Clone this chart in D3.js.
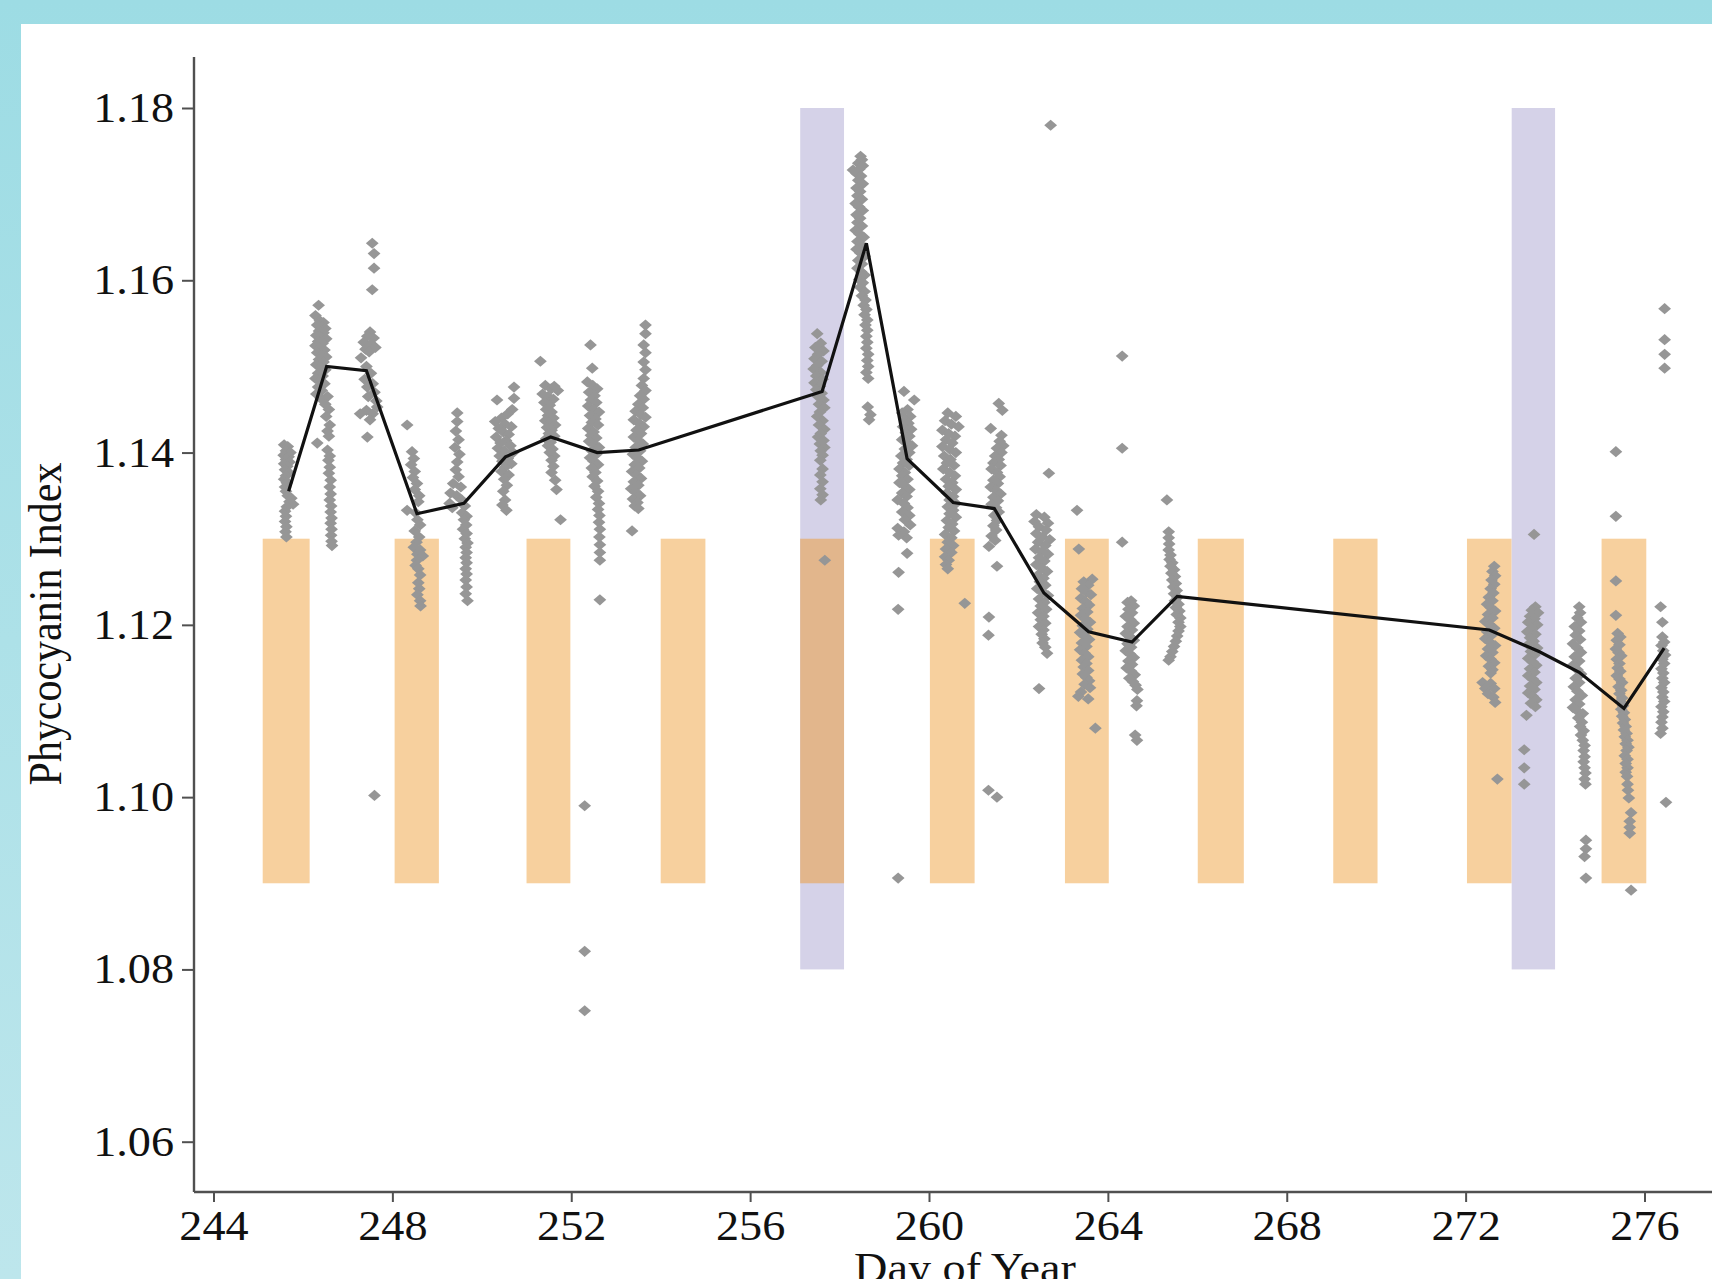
<!DOCTYPE html>
<html><head><meta charset="utf-8">
<script src="https://cdn.jsdelivr.net/npm/d3@7"></script>
<style>
html,body{margin:0;padding:0;background:#fff;}
svg{display:block;}
text{font-family:"Liberation Serif","Times New Roman",serif;fill:#111;}
</style></head><body>
<svg id="chart" width="1712" height="1279"></svg>
<script>
// ---------------- DATA ----------------
const xTicks = [244, 248, 252, 256, 260, 264, 268, 272, 276];
const yTicks = [1.06, 1.08, 1.10, 1.12, 1.14, 1.16, 1.18];
const xTitle = "Day of Year";
const yTitle = "Phycocyanin Index";

const orangeStart = [245.1, 248.05, 251.0, 254.0, 257.12, 260.02, 263.04, 266.01, 269.04, 272.03, 275.04];
const orangeEnd   = [246.15, 249.04, 251.98, 255.0, 258.1, 261.02, 264.02, 267.04, 270.03, 273.03, 276.04];
const orangeLow = 1.09, orangeHigh = 1.13;
const purpleStart = [257.12, 273.03];
const purpleEnd   = [258.1, 274.0];
const purpleLow = 1.08, purpleHigh = 1.18;

const meanDay = [245.68, 246.53, 247.42, 248.55, 249.60, 250.53, 251.54, 252.58, 253.51, 257.61, 258.60, 259.51, 260.54, 261.46, 262.57, 263.57, 264.54, 265.55, 272.53, 273.64, 274.54, 275.54, 276.44];
const meanValue = [1.1355, 1.1500, 1.1495, 1.1329, 1.1341, 1.1395, 1.1418, 1.1400, 1.1403, 1.1471, 1.1643, 1.1393, 1.1342, 1.1335, 1.1237, 1.1192, 1.1180, 1.1233, 1.1194, 1.1169, 1.1145, 1.1103, 1.1173];

const samples = [
// day ~245.6
[245.58,1.1409],[245.66,1.1407],[245.62,1.1402],[245.72,1.1400],[245.57,1.1397],[245.68,1.1395],[245.62,1.1392],[245.70,1.1389],[245.58,1.1387],[245.65,1.1384],[245.60,1.1380],[245.68,1.1377],[245.62,1.1373],[245.58,1.1369],[245.64,1.1365],[245.60,1.1360],[245.62,1.1355],[245.66,1.1350],[245.74,1.1347],[245.70,1.1343],[245.78,1.1340],[245.64,1.1337],[245.60,1.1332],[245.62,1.1326],[245.60,1.1320],[245.63,1.1314],[245.61,1.1308],[245.63,1.1302],
// day ~246.5
[246.35,1.1571],[246.28,1.1559],[246.38,1.1553],[246.46,1.1551],[246.32,1.1548],[246.42,1.1546],[246.50,1.1544],[246.36,1.1541],[246.46,1.1539],[246.30,1.1536],[246.40,1.1534],[246.52,1.1532],[246.34,1.1529],[246.44,1.1527],[246.28,1.1524],[246.38,1.1521],[246.48,1.1519],[246.32,1.1516],[246.42,1.1513],[246.52,1.1511],[246.36,1.1508],[246.46,1.1505],[246.30,1.1502],[246.40,1.1499],[246.50,1.1496],[246.34,1.1492],[246.44,1.1489],[246.28,1.1486],[246.38,1.1483],[246.48,1.1480],[246.34,1.1476],[246.42,1.1472],[246.30,1.1468],[246.40,1.1463],
[246.55,1.1465],[246.50,1.1456],[246.58,1.1450],[246.52,1.1442],[246.60,1.1432],[246.55,1.1425],[246.58,1.1419],[246.32,1.1411],[246.55,1.1403],[246.60,1.1396],[246.57,1.1391],[246.60,1.1383],[246.58,1.1376],[246.62,1.1368],[246.60,1.1360],[246.62,1.1352],[246.60,1.1345],[246.63,1.1338],[246.62,1.1331],[246.64,1.1324],[246.62,1.1318],[246.64,1.1311],[246.63,1.1304],[246.64,1.1297],[246.65,1.1292],
// day ~247.5
[247.55,1.1643],[247.59,1.1631],[247.59,1.1614],[247.55,1.1589],[247.50,1.1540],[247.44,1.1535],[247.58,1.1533],[247.36,1.1528],[247.52,1.1526],[247.62,1.1522],[247.40,1.1520],[247.48,1.1517],[247.30,1.1510],[247.42,1.1500],[247.52,1.1492],[247.38,1.1485],[247.56,1.1480],[247.44,1.1476],[247.60,1.1470],[247.46,1.1465],[247.64,1.1460],[247.66,1.1453],[247.42,1.1449],[247.56,1.1445],[247.28,1.1445],[247.50,1.1438],[247.44,1.1418],[247.60,1.1002],
// day ~248.5
[248.33,1.1432],[248.44,1.1401],[248.48,1.1393],[248.42,1.1386],[248.50,1.1378],[248.46,1.1371],[248.55,1.1364],[248.50,1.1357],[248.60,1.1350],[248.58,1.1343],[248.33,1.1333],[248.52,1.1330],[248.56,1.1322],[248.62,1.1316],[248.50,1.1309],[248.60,1.1302],[248.54,1.1296],[248.48,1.1290],[248.62,1.1287],[248.56,1.1282],[248.68,1.1280],[248.55,1.1275],[248.52,1.1269],[248.58,1.1265],[248.62,1.1258],[248.58,1.1249],[248.60,1.1242],[248.56,1.1235],[248.62,1.1228],[248.63,1.1222],
// day ~249.5
[249.45,1.1446],[249.45,1.1436],[249.42,1.1425],[249.48,1.1415],[249.40,1.1406],[249.50,1.1398],[249.45,1.1389],[249.42,1.1380],[249.48,1.1372],[249.36,1.1364],[249.53,1.1360],[249.30,1.1353],[249.44,1.1350],[249.55,1.1345],[249.28,1.1341],[249.34,1.1336],[249.62,1.1338],[249.56,1.1330],[249.66,1.1326],[249.60,1.1322],[249.65,1.1316],[249.58,1.1311],[249.66,1.1306],[249.62,1.1300],[249.68,1.1295],[249.64,1.1290],[249.66,1.1284],[249.64,1.1278],[249.66,1.1272],[249.64,1.1265],[249.66,1.1259],[249.64,1.1252],[249.66,1.1244],[249.64,1.1236],[249.68,1.1228],
// day ~250.5
[250.72,1.1476],[250.34,1.1461],[250.72,1.1463],[250.68,1.1450],[250.58,1.1445],[250.44,1.1440],[250.30,1.1436],[250.52,1.1433],[250.66,1.1430],[250.38,1.1428],[250.48,1.1424],[250.60,1.1421],[250.32,1.1418],[250.54,1.1414],[250.42,1.1411],[250.64,1.1408],[250.36,1.1405],[250.50,1.1402],[250.70,1.1400],[250.40,1.1396],[250.58,1.1393],[250.46,1.1390],[250.66,1.1387],[250.52,1.1383],[250.44,1.1378],[250.60,1.1374],[250.50,1.1369],[250.56,1.1362],[250.48,1.1355],[250.52,1.1345],[250.46,1.1339],[250.55,1.1333],
// day ~251.5
[251.31,1.1506],[251.42,1.1478],[251.55,1.1474],[251.62,1.1477],[251.70,1.1472],[251.36,1.1468],[251.48,1.1465],[251.60,1.1462],[251.40,1.1458],[251.52,1.1455],[251.44,1.1450],[251.56,1.1447],[251.48,1.1443],[251.60,1.1440],[251.42,1.1437],[251.52,1.1434],[251.64,1.1432],[251.46,1.1429],[251.56,1.1426],[251.50,1.1422],[251.62,1.1419],[251.44,1.1416],[251.54,1.1412],[251.48,1.1408],[251.58,1.1404],[251.52,1.1400],[251.62,1.1396],[251.56,1.1391],[251.60,1.1384],[251.56,1.1377],[251.64,1.1368],[251.67,1.1357],[251.76,1.1322],
// day ~252.5
[252.43,1.1525],[252.47,1.1498],[252.36,1.1482],[252.48,1.1478],[252.58,1.1474],[252.40,1.1470],[252.52,1.1466],[252.44,1.1461],[252.56,1.1458],[252.38,1.1454],[252.50,1.1450],[252.62,1.1447],[252.42,1.1443],[252.54,1.1439],[252.46,1.1435],[252.60,1.1432],[252.38,1.1428],[252.50,1.1424],[252.44,1.1420],[252.56,1.1417],[252.40,1.1413],[252.52,1.1409],[252.62,1.1406],[252.46,1.1402],[252.56,1.1398],[252.42,1.1394],[252.50,1.1390],[252.60,1.1386],[252.46,1.1382],[252.54,1.1377],[252.48,1.1372],[252.58,1.1367],[252.52,1.1361],[252.60,1.1355],[252.56,1.1348],[252.62,1.1341],[252.60,1.1334],[252.63,1.1327],[252.62,1.1319],[252.64,1.1311],[252.63,1.1302],[252.64,1.1293],[252.64,1.1284],[252.64,1.1275],[252.64,1.1229],[252.30,1.0990],[252.30,1.0821],[252.30,1.0752],
// day ~253.5
[253.66,1.1548],[253.66,1.1538],[253.62,1.1525],[253.66,1.1516],[253.62,1.1505],[253.66,1.1496],[253.62,1.1486],[253.58,1.1478],[253.66,1.1472],[253.54,1.1466],[253.62,1.1462],[253.50,1.1456],[253.60,1.1452],[253.44,1.1448],[253.56,1.1444],[253.66,1.1441],[253.40,1.1438],[253.52,1.1434],[253.62,1.1430],[253.46,1.1426],[253.56,1.1422],[253.40,1.1418],[253.50,1.1414],[253.60,1.1410],[253.44,1.1406],[253.54,1.1402],[253.38,1.1398],[253.48,1.1394],[253.58,1.1390],[253.42,1.1386],[253.52,1.1382],[253.36,1.1378],[253.46,1.1374],[253.56,1.1370],[253.40,1.1366],[253.50,1.1362],[253.34,1.1358],[253.44,1.1354],[253.54,1.1350],[253.38,1.1346],[253.48,1.1342],[253.42,1.1338],[253.50,1.1335],[253.36,1.1309],
// day ~257.6
[257.50,1.1538],[257.58,1.1527],[257.46,1.1522],[257.64,1.1518],[257.52,1.1514],[257.44,1.1509],[257.60,1.1506],[257.50,1.1501],[257.42,1.1497],[257.58,1.1493],[257.48,1.1489],[257.62,1.1485],[257.44,1.1481],[257.56,1.1477],[257.48,1.1473],[257.60,1.1469],[257.52,1.1465],[257.64,1.1461],[257.54,1.1456],[257.66,1.1452],[257.56,1.1447],[257.50,1.1442],[257.62,1.1437],[257.54,1.1432],[257.66,1.1427],[257.58,1.1422],[257.52,1.1418],[257.64,1.1414],[257.56,1.1410],[257.66,1.1406],[257.58,1.1402],[257.62,1.1397],[257.57,1.1391],[257.62,1.1381],[257.57,1.1374],[257.62,1.1366],[257.57,1.1358],[257.62,1.1351],[257.58,1.1345],[257.67,1.1275],
// day ~258.5
[258.47,1.1744],[258.50,1.1740],[258.42,1.1736],[258.52,1.1733],[258.30,1.1728],[258.44,1.1729],[258.38,1.1724],[258.48,1.1721],[258.42,1.1716],[258.52,1.1712],[258.38,1.1707],[258.46,1.1703],[258.40,1.1698],[258.50,1.1694],[258.36,1.1689],[258.44,1.1685],[258.52,1.1681],[258.38,1.1676],[258.46,1.1672],[258.40,1.1667],[258.50,1.1663],[258.36,1.1658],[258.44,1.1654],[258.54,1.1650],[258.40,1.1645],[258.48,1.1641],[258.38,1.1636],[258.46,1.1632],[258.56,1.1628],[258.42,1.1623],[258.50,1.1619],[258.40,1.1614],[258.48,1.1610],[258.56,1.1606],[258.44,1.1601],[258.52,1.1597],[258.46,1.1592],
[258.56,1.1587],[258.50,1.1582],[258.58,1.1577],[258.54,1.1571],[258.60,1.1566],[258.56,1.1560],[258.62,1.1554],[258.58,1.1548],[258.62,1.1542],[258.60,1.1535],[258.62,1.1528],[258.60,1.1521],[258.64,1.1514],[258.62,1.1507],[258.64,1.1500],[258.60,1.1493],[258.64,1.1486],[258.63,1.1453],[258.69,1.1444],[258.66,1.1438],
// day ~259.5
[259.44,1.1471],[259.67,1.1461],[259.52,1.1450],[259.40,1.1446],[259.58,1.1442],[259.46,1.1438],[259.54,1.1434],[259.42,1.1430],[259.60,1.1427],[259.48,1.1423],[259.56,1.1419],[259.40,1.1415],[259.52,1.1411],[259.62,1.1408],[259.46,1.1404],[259.56,1.1400],[259.38,1.1396],[259.50,1.1392],[259.42,1.1388],[259.56,1.1385],[259.34,1.1381],[259.46,1.1377],[259.40,1.1373],[259.52,1.1369],[259.34,1.1365],[259.46,1.1361],[259.56,1.1357],[259.40,1.1353],[259.50,1.1349],[259.30,1.1345],[259.44,1.1341],[259.52,1.1336],[259.40,1.1331],[259.56,1.1327],[259.46,1.1322],[259.58,1.1316],[259.30,1.1312],[259.44,1.1308],[259.50,1.1301],[259.32,1.1304],[259.51,1.1283],[259.32,1.1261],[259.31,1.1218],[259.31,1.0906],
// day ~260.5
[260.42,1.1446],[260.60,1.1442],[260.36,1.1437],[260.50,1.1433],[260.66,1.1430],[260.30,1.1426],[260.44,1.1422],[260.58,1.1419],[260.38,1.1415],[260.52,1.1411],[260.30,1.1407],[260.46,1.1404],[260.60,1.1400],[260.34,1.1396],[260.48,1.1392],[260.40,1.1388],[260.56,1.1385],[260.32,1.1381],[260.46,1.1377],[260.58,1.1373],[260.38,1.1369],[260.52,1.1365],[260.44,1.1361],[260.60,1.1357],[260.40,1.1353],[260.54,1.1349],[260.46,1.1345],[260.60,1.1341],[260.42,1.1337],[260.54,1.1333],[260.46,1.1329],[260.60,1.1325],[260.40,1.1321],[260.52,1.1317],[260.44,1.1313],[260.56,1.1309],[260.36,1.1305],[260.50,1.1301],[260.42,1.1296],[260.54,1.1292],[260.38,1.1288],[260.50,1.1284],[260.36,1.1279],[260.44,1.1275],[260.38,1.1270],[260.42,1.1265],[260.80,1.1225],
// day ~261.5
[261.56,1.1457],[261.64,1.1449],[261.38,1.1428],[261.62,1.1420],[261.58,1.1413],[261.66,1.1408],[261.52,1.1405],[261.62,1.1400],[261.48,1.1396],[261.56,1.1392],[261.44,1.1388],[261.60,1.1385],[261.40,1.1381],[261.52,1.1377],[261.58,1.1372],[261.44,1.1368],[261.54,1.1364],[261.38,1.1360],[261.50,1.1356],[261.60,1.1352],[261.44,1.1348],[261.54,1.1344],[261.40,1.1340],[261.50,1.1336],[261.56,1.1331],[261.46,1.1327],[261.52,1.1321],[261.44,1.1315],[261.50,1.1310],[261.40,1.1303],[261.48,1.1298],[261.34,1.1291],[261.52,1.1268],[261.34,1.1209],[261.33,1.1188],[261.33,1.1008],[261.52,1.1000],
// day ~262.5
[262.72,1.1780],[262.68,1.1376],[262.40,1.1328],[262.58,1.1325],[262.36,1.1320],[262.66,1.1318],[262.46,1.1314],[262.62,1.1310],[262.40,1.1306],[262.54,1.1302],[262.70,1.1299],[262.44,1.1296],[262.60,1.1292],[262.38,1.1288],[262.52,1.1285],[262.66,1.1282],[262.46,1.1278],[262.58,1.1274],[262.40,1.1270],[262.52,1.1266],[262.64,1.1262],[262.44,1.1258],[262.56,1.1254],[262.48,1.1250],[262.60,1.1246],[262.42,1.1242],[262.54,1.1238],[262.66,1.1234],[262.46,1.1230],[262.58,1.1226],[262.50,1.1222],[262.62,1.1218],[262.44,1.1214],[262.56,1.1210],[262.50,1.1206],[262.60,1.1202],[262.46,1.1198],[262.56,1.1194],[262.52,1.1189],[262.58,1.1184],[262.54,1.1179],[262.60,1.1174],[262.64,1.1167],[262.46,1.1126],
// day ~263.5
[263.31,1.1333],[263.35,1.1288],[263.65,1.1253],[263.46,1.1250],[263.56,1.1246],[263.42,1.1242],[263.52,1.1238],[263.62,1.1235],[263.40,1.1231],[263.50,1.1227],[263.58,1.1223],[263.44,1.1219],[263.54,1.1215],[263.40,1.1211],[263.50,1.1207],[263.60,1.1203],[263.44,1.1199],[263.54,1.1195],[263.38,1.1191],[263.48,1.1187],[263.58,1.1183],[263.42,1.1179],[263.52,1.1175],[263.38,1.1171],[263.48,1.1167],[263.56,1.1163],[263.42,1.1159],[263.52,1.1155],[263.46,1.1151],[263.56,1.1147],[263.44,1.1143],[263.52,1.1139],[263.58,1.1135],[263.48,1.1131],[263.60,1.1127],[263.40,1.1122],[263.34,1.1117],[263.56,1.1114],[263.72,1.1080],
// day ~264.5
[264.32,1.1512],[264.32,1.1405],[264.32,1.1296],[264.52,1.1228],[264.44,1.1226],[264.58,1.1222],[264.46,1.1218],[264.54,1.1214],[264.40,1.1210],[264.50,1.1206],[264.58,1.1202],[264.44,1.1198],[264.54,1.1194],[264.40,1.1190],[264.50,1.1186],[264.58,1.1182],[264.44,1.1178],[264.52,1.1174],[264.40,1.1170],[264.50,1.1166],[264.58,1.1162],[264.46,1.1158],[264.54,1.1154],[264.42,1.1150],[264.52,1.1146],[264.60,1.1142],[264.48,1.1138],[264.56,1.1134],[264.62,1.1130],[264.66,1.1125],[264.65,1.1112],[264.64,1.1106],[264.61,1.1072],[264.65,1.1066],
// day ~265.5
[265.32,1.1345],[265.36,1.1308],[265.36,1.1301],[265.37,1.1294],[265.36,1.1287],[265.40,1.1281],[265.38,1.1276],[265.44,1.1272],[265.40,1.1268],[265.48,1.1264],[265.42,1.1260],[265.50,1.1256],[265.44,1.1252],[265.52,1.1248],[265.46,1.1244],[265.54,1.1240],[265.48,1.1236],[265.56,1.1232],[265.50,1.1228],[265.58,1.1224],[265.52,1.1220],[265.60,1.1216],[265.54,1.1212],[265.62,1.1208],[265.58,1.1203],[265.62,1.1198],[265.58,1.1193],[265.55,1.1187],[265.52,1.1181],[265.48,1.1175],[265.44,1.1169],[265.40,1.1163],[265.36,1.1159],
// day ~272.5
[272.64,1.1268],[272.60,1.1262],[272.66,1.1257],[272.58,1.1252],[272.64,1.1247],[272.56,1.1242],[272.62,1.1237],[272.52,1.1232],[272.60,1.1228],[272.48,1.1224],[272.56,1.1220],[272.66,1.1216],[272.50,1.1212],[272.60,1.1208],[272.44,1.1204],[272.54,1.1200],[272.64,1.1196],[272.48,1.1192],[272.58,1.1188],[272.44,1.1184],[272.54,1.1180],[272.66,1.1176],[272.50,1.1172],[272.60,1.1168],[272.46,1.1164],[272.56,1.1160],[272.64,1.1156],[272.52,1.1152],[272.60,1.1148],[272.56,1.1144],[272.38,1.1133],[272.56,1.1132],[272.44,1.1126],[272.64,1.1126],[272.50,1.1120],[272.62,1.1116],[272.66,1.1110],[272.71,1.1021],
// day ~273.5
[273.53,1.1305],[273.56,1.1221],[273.48,1.1217],[273.62,1.1214],[273.44,1.1210],[273.54,1.1207],[273.40,1.1203],[273.60,1.1200],[273.48,1.1196],[273.38,1.1192],[273.56,1.1189],[273.44,1.1185],[273.52,1.1181],[273.40,1.1177],[273.60,1.1173],[273.46,1.1169],[273.54,1.1165],[273.40,1.1161],[273.50,1.1157],[273.58,1.1153],[273.44,1.1149],[273.54,1.1145],[273.40,1.1141],[273.50,1.1137],[273.58,1.1133],[273.44,1.1129],[273.54,1.1125],[273.40,1.1121],[273.50,1.1117],[273.58,1.1113],[273.46,1.1109],[273.56,1.1105],[273.36,1.1095],[273.31,1.1055],[273.31,1.1034],[273.31,1.1015],
// day ~274.5
[274.54,1.1221],[274.56,1.1214],[274.50,1.1208],[274.58,1.1203],[274.44,1.1198],[274.54,1.1193],[274.46,1.1188],[274.56,1.1183],[274.40,1.1178],[274.50,1.1173],[274.58,1.1168],[274.44,1.1163],[274.54,1.1158],[274.40,1.1153],[274.50,1.1148],[274.58,1.1143],[274.46,1.1138],[274.54,1.1133],[274.42,1.1128],[274.50,1.1123],[274.60,1.1118],[274.46,1.1113],[274.54,1.1108],[274.40,1.1104],[274.50,1.1100],[274.62,1.1097],[274.52,1.1092],[274.60,1.1087],[274.56,1.1082],[274.64,1.1077],[274.58,1.1072],[274.62,1.1066],[274.66,1.1060],[274.64,1.1054],[274.66,1.1047],[274.64,1.1041],[274.66,1.1034],[274.68,1.1028],[274.66,1.1021],[274.68,1.1015],[274.69,1.0950],[274.69,1.0940],[274.66,1.0931],[274.69,1.0906],
// day ~275.5
[275.36,1.1401],[275.36,1.1326],[275.36,1.1251],[275.36,1.1211],[275.40,1.1190],[275.46,1.1186],[275.38,1.1182],[275.44,1.1177],[275.36,1.1172],[275.42,1.1168],[275.48,1.1164],[275.38,1.1160],[275.44,1.1155],[275.40,1.1150],[275.46,1.1146],[275.38,1.1141],[275.44,1.1137],[275.50,1.1133],[275.42,1.1128],[275.48,1.1124],[275.44,1.1120],[275.50,1.1115],[275.46,1.1111],[275.52,1.1106],[275.48,1.1102],[275.54,1.1098],[275.50,1.1094],[275.56,1.1090],[275.52,1.1086],[275.58,1.1082],[275.54,1.1078],[275.60,1.1074],[275.56,1.1070],[275.62,1.1066],[275.58,1.1062],[275.64,1.1058],[275.60,1.1054],[275.56,1.1048],[275.62,1.1044],[275.58,1.1039],[275.62,1.1034],[275.58,1.1029],[275.61,1.1024],[275.62,1.1015],[275.63,1.1008],[275.65,1.0999],[275.70,1.0982],[275.67,1.0972],[275.67,1.0965],[275.67,1.0958],[275.70,1.0892],
// day ~276.4
[276.45,1.1567],[276.45,1.1531],[276.45,1.1514],[276.45,1.1498],[276.36,1.1221],[276.40,1.1203],[276.40,1.1186],[276.44,1.1180],[276.38,1.1176],[276.42,1.1170],[276.46,1.1165],[276.40,1.1160],[276.44,1.1155],[276.38,1.1149],[276.42,1.1144],[276.40,1.1138],[276.44,1.1133],[276.38,1.1127],[276.42,1.1122],[276.40,1.1116],[276.44,1.1111],[276.38,1.1105],[276.42,1.1099],[276.40,1.1093],[276.38,1.1087],[276.40,1.1080],[276.36,1.1074],[276.48,1.0994]
];

// ---------------- LAYOUT ----------------
const W = 1712, H = 1279;
const panel = {x: 21, y: 24};
const axisLeft = 194, axisTop = 57, axisBottom = 1192;
const stretch = 1.1; // horizontal glyph stretch of the source image
const colors = {
  orange: "#F7D09E", purple: "#D5D2E8", overlap: "#E2B68C",
  point: "#969696", line: "#111111", axis: "#505050"
};

const svg = d3.select("#chart");
const defs = svg.append("defs");
const grad = defs.append("linearGradient").attr("id", "bg").attr("x1", 0).attr("y1", 0).attr("x2", 0).attr("y2", 1);
grad.append("stop").attr("offset", "0%").attr("stop-color", "#9DDCE4");
grad.append("stop").attr("offset", "100%").attr("stop-color", "#BDE6EC");
svg.append("rect").attr("width", W).attr("height", H).attr("fill", "url(#bg)");
svg.append("rect").attr("x", panel.x).attr("y", panel.y).attr("width", W - panel.x).attr("height", H - panel.y).attr("fill", "#fff");

const x = d3.scaleLinear().domain([244, 276]).range([213.5, 1644.5]);
const y = d3.scaleLinear().domain([1.06, 1.18]).range([1141.7, 108]);

// bands
const g = svg.append("g");
const orange = orangeStart.map((s, i) => ({s, e: orangeEnd[i]}));
const purple = purpleStart.map((s, i) => ({s, e: purpleEnd[i]}));
g.selectAll("rect.o").data(orange).join("rect").attr("class", "o")
  .attr("x", d => x(d.s)).attr("width", d => x(d.e) - x(d.s))
  .attr("y", y(orangeHigh)).attr("height", y(orangeLow) - y(orangeHigh))
  .attr("fill", colors.orange);
g.selectAll("rect.p").data(purple).join("rect").attr("class", "p")
  .attr("x", d => x(d.s)).attr("width", d => x(d.e) - x(d.s))
  .attr("y", y(purpleHigh)).attr("height", y(purpleLow) - y(purpleHigh))
  .attr("fill", colors.purple);
const overlaps = [];
orange.forEach(o => purple.forEach(p => {
  const s = Math.max(o.s, p.s), e = Math.min(o.e, p.e);
  if (s < e) overlaps.push({s, e, lo: Math.max(orangeLow, purpleLow), hi: Math.min(orangeHigh, purpleHigh)});
}));
g.selectAll("rect.ov").data(overlaps).join("rect").attr("class", "ov")
  .attr("x", d => x(d.s)).attr("width", d => x(d.e) - x(d.s))
  .attr("y", d => y(d.hi)).attr("height", d => y(d.lo) - y(d.hi))
  .attr("fill", colors.overlap);

// points
const diamond = "M0,-5.6L6.4,0L0,5.6L-6.4,0Z";
svg.append("g").selectAll("path").data(samples).join("path")
  .attr("d", diamond)
  .attr("transform", d => `translate(${x(d[0])},${y(d[1])})`)
  .attr("fill", colors.point);

// mean line
const line = d3.line().x(d => x(d[0])).y(d => y(d[1]));
svg.append("path").datum(meanDay.map((d, i) => [d, meanValue[i]]))
  .attr("d", line).attr("fill", "none").attr("stroke", colors.line)
  .attr("stroke-width", 3.2).attr("stroke-linejoin", "miter");

// axes
const fs = 42;
const xAxisG = svg.append("g").attr("transform", `translate(0,${axisBottom})`)
  .call(d3.axisBottom(x).tickValues(xTicks).tickSize(10).tickPadding(8).tickFormat(d3.format("d")));
xAxisG.select(".domain").remove();
xAxisG.selectAll(".tick line").attr("stroke", colors.axis).attr("stroke-width", 2);
xAxisG.selectAll(".tick text").attr("font-size", fs).attr("font-family", "Liberation Serif")
  .attr("fill", "#111").attr("transform", `scale(${stretch},1)`);
xAxisG.append("line").attr("x1", axisLeft).attr("x2", W).attr("y1", 0).attr("y2", 0)
  .attr("stroke", colors.axis).attr("stroke-width", 2.4);

const yAxisG = svg.append("g").attr("transform", `translate(${axisLeft},0)`)
  .call(d3.axisLeft(y).tickValues(yTicks).tickSize(12).tickPadding(8).tickFormat(d3.format(".2f")));
yAxisG.select(".domain").remove();
yAxisG.selectAll(".tick line").attr("stroke", colors.axis).attr("stroke-width", 2);
yAxisG.selectAll(".tick text").attr("font-size", fs).attr("font-family", "Liberation Serif")
  .attr("fill", "#111").attr("x", -20 / stretch).attr("transform", `scale(${stretch},1)`);
yAxisG.append("line").attr("x1", 0).attr("x2", 0).attr("y1", axisTop).attr("y2", axisBottom)
  .attr("stroke", colors.axis).attr("stroke-width", 2.4);

// titles
svg.append("text").attr("transform", `translate(965,1282) scale(${stretch},1)`)
  .attr("text-anchor", "middle").attr("font-size", fs).text(xTitle);
svg.append("text").attr("transform", `translate(61,624) rotate(-90) scale(1,${stretch})`)
  .attr("text-anchor", "middle").attr("font-size", fs).text(yTitle);
</script>
</body></html>
